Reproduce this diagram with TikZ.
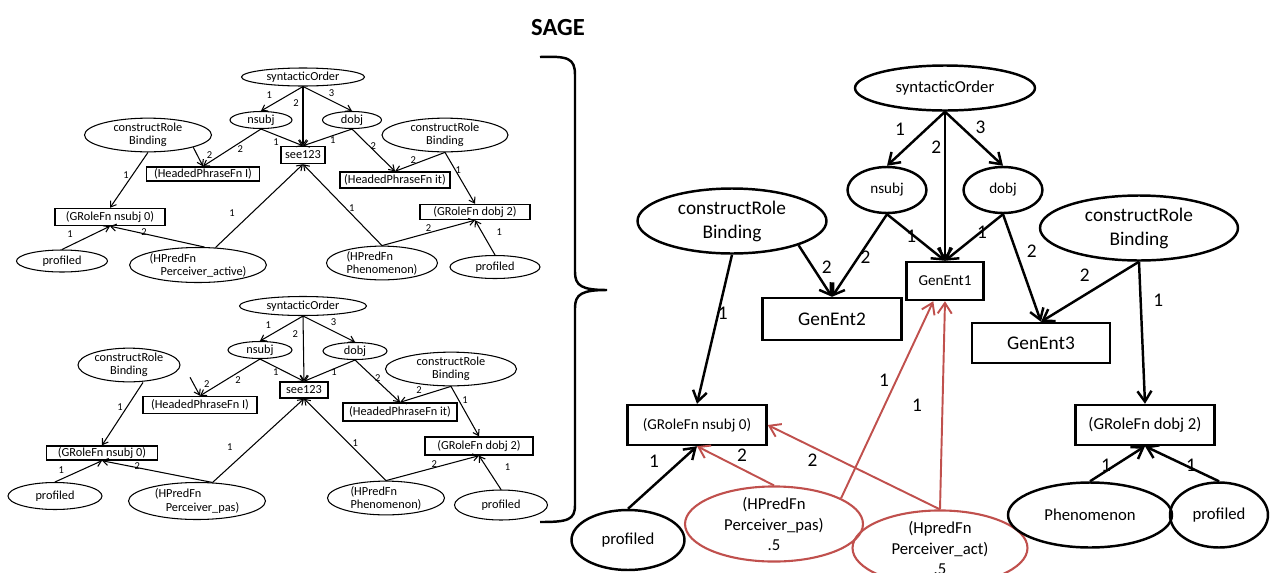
\documentclass[tikz,border=0pt]{standalone}
\usepackage{fontspec}
\setmainfont{Carlito}
\usetikzlibrary{shapes.geometric, arrows.meta}

\definecolor{accred}{HTML}{C0504D}
\newcommand{\fbig}{\fontsize{11}{13.6}\selectfont}
\newcommand{\fmid}{\fontsize{9.5}{11.6}\selectfont}
\newcommand{\fsml}{\fontsize{8.6}{10}\selectfont}
\newcommand{\ftiny}{\fontsize{7}{7.5}\selectfont}
\newcommand{\fmini}{\fontsize{6}{7}\selectfont}

\begin{document}
\begin{tikzpicture}[x=0.02cm, y=-0.02cm,
    bigell/.style={ellipse, draw=black, line width=1.4pt, inner sep=0pt, align=center, font=\fbig},
    bigbox/.style={rectangle, draw=black, line width=1.4pt, inner sep=0pt, font=\fbig},
    redell/.style={bigell, draw=accred, line width=1.2pt, font=\fmid},
    bigarr/.style={line width=1.4pt, -{Straight Barb[length=6pt, width=8pt]}},
    redarr/.style={line width=1.1pt, draw=accred, -{Straight Barb[length=6pt, width=8pt]}},
    biglbl/.style={font=\fbig, inner sep=0pt},
    sell/.style={ellipse, draw=black, line width=0.6pt, inner sep=0pt, align=center, font=\ftiny},
    sbox/.style={rectangle, draw=black, line width=0.8pt, inner sep=0pt, font=\ftiny},
    sarr/.style={line width=0.6pt, -{Straight Barb[length=3pt, width=4pt]}},
    slbl/.style={font=\fmini, inner sep=0pt}
]
\useasboundingbox (0,0) rectangle (1272,572);
\clip (0,0) rectangle (1272,572);

% title and brace
\node[font=\bfseries\fontsize{14}{16}\selectfont] (sage) at (558,28) {SAGE};
\draw[line width=1.4pt] (540,57) .. controls (568,56) and (575,58) .. (575,75) -- (575,272)
    .. controls (575,286) and (582,290) .. (607,290) .. controls (582,290) and (575,294) .. (575,308)
    -- (575,505) .. controls (575,520) and (568,522) .. (540,522);

% upper small graph (active)
\node[sell, minimum width=2.46cm, minimum height=0.36cm] (soA) at (303,77) {syntacticOrder};
\node[sell, minimum width=1.24cm, minimum height=0.34cm] (nsA) at (261,120) {nsubj};
\node[sell, minimum width=1.18cm, minimum height=0.34cm] (doA) at (352,120) {dobj};
\node[sbox, minimum width=0.88cm, minimum height=0.34cm] (seeA) at (303,155) {see123};
\node[sell, minimum width=2.54cm, minimum height=0.52cm] (crlA) at (148,135) {constructRole\\Binding};
\node[sbox, minimum width=2.26cm, minimum height=0.28cm] (hpiA) at (203,174) {(HeadedPhraseFn I)};
\node[sbox, minimum width=2.2cm, minimum height=0.34cm] (gnA) at (110,217) {(GRoleFn nsubj 0)};
\node[sell, minimum width=1.82cm, minimum height=0.44cm] (plA) at (62,261) {profiled};
\node[sell, align=left, minimum width=2.6cm, minimum height=0.7cm] (actA) at (198,265) {(HPredFn\\\hspace*{0.9em}Perceiver\_active)};
\node[sell, minimum width=2.52cm, minimum height=0.5cm] (crrA) at (445,135) {constructRole\\Binding};
\node[sbox, minimum width=2.2cm, minimum height=0.32cm] (hitA) at (395,180) {(HeadedPhraseFn it)};
\node[sbox, minimum width=2.2cm, minimum height=0.3cm] (gdA) at (475,212) {(GRoleFn dobj 2)};
\node[sell, align=left, minimum width=2.22cm, minimum height=0.62cm] (phA) at (382,263) {(HPredFn\\Phenomenon)};
\node[sell, minimum width=1.8cm, minimum height=0.46cm] (prA) at (495,267) {profiled};

\draw[sarr] (soA.south) -- node[slbl, pos=.34, xshift=-11pt] {1} (nsA.north);
\draw[sarr] (soA.south) -- node[slbl, pos=.275, xshift=-4pt] {2} (seeA.north);
\draw[sarr] (soA.south) -- node[slbl, pos=.26, xshift=9pt] {3} (doA.north);
\draw[sarr] (nsA.south) -- node[slbl, pos=.53, xshift=5.7pt] {2} (hpiA.north);
\draw[sarr] (nsA.south) -- node[slbl, pos=.36, yshift=-4pt] {1} (seeA.north);
\draw[sarr] (doA.south) -- node[slbl, pos=.39, yshift=-2.5pt] {1} (seeA.north);
\draw[sarr] (doA.south) -- node[slbl, pos=.4, xshift=2.3pt] {2} (hitA.north);
\draw[sarr] (crlA.south east) -- node[slbl, pos=.41, xshift=7pt] {2} (hpiA.north);
\draw[sarr] (crlA.south) -- node[slbl, pos=.41, xshift=-3.6pt] {1} (gnA.north);
\draw[sarr] (plA.north) -- node[slbl, pos=.3, xshift=-3.6pt, yshift=4.9pt] {1} (gnA.south);
\draw[sarr] (actA.70) -- node[slbl, pos=.64, yshift=1pt] {2} (gnA.south);
\draw[sarr] (actA.45) -- node[slbl, pos=.41, xshift=-11pt] {1} (seeA.south);
\draw[sarr] (phA.north) -- node[slbl, pos=.46, xshift=3.5pt] {1} (seeA.south);
\draw[sarr] (phA.north) -- node[slbl, pos=.5, yshift=3pt] {2} (gdA.south);
\draw[sarr] (prA.north) -- node[slbl, pos=.66, xshift=10pt] {1} (gdA.south);
\draw[sarr] (crrA.south) -- node[slbl, pos=.39, xshift=-7pt] {2} (hitA.north);
\draw[sarr] (crrA.south) -- node[slbl, pos=.34, xshift=1.7pt] {1} (gdA.north);

% lower small graph (passive)
\node[sell, minimum width=2.54cm, minimum height=0.38cm] (soB) at (303,306) {syntacticOrder};
\node[sell, minimum width=1.28cm, minimum height=0.34cm] (nsB) at (260,350) {nsubj};
\node[sell, minimum width=1.28cm, minimum height=0.34cm] (doB) at (355,351) {dobj};
\node[sbox, minimum width=0.96cm, minimum height=0.32cm] (seeB) at (304,390) {see123};
\node[sell, minimum width=2.04cm, minimum height=0.52cm] (crlB) at (129,365) {constructRole\\Binding};
\node[sbox, minimum width=2.28cm, minimum height=0.34cm] (hpiB) at (200,405) {(HeadedPhraseFn I)};
\node[sbox, minimum width=2.22cm, minimum height=0.28cm] (gnB) at (102,453) {(GRoleFn nsubj 0)};
\node[sell, minimum width=1.88cm, minimum height=0.54cm] (plB) at (55,496) {profiled};
\node[sell, align=left, minimum width=2.74cm, minimum height=0.74cm] (pasB) at (197,501) {(HPredFn\\\hspace*{0.9em}Perceiver\_pas)};
\node[sell, minimum width=2.62cm, minimum height=0.56cm] (crrB) at (451,369) {constructRole\\Binding};
\node[sbox, minimum width=2.28cm, minimum height=0.36cm] (hitB) at (400,412) {(HeadedPhraseFn it)};
\node[sbox, minimum width=2.16cm, minimum height=0.36cm] (gdB) at (479,446) {(GRoleFn dobj 2)};
\node[sell, align=left, minimum width=2.34cm, minimum height=0.6cm] (phB) at (386,498) {(HPredFn\\Phenomenon)};
\node[sell, minimum width=1.86cm, minimum height=0.6cm] (prB) at (501,505) {profiled};

\draw[sarr] (soB.south) -- node[slbl, pos=.36, xshift=-11pt] {1} (nsB.north);
\draw[sarr] (soB.south) -- node[slbl, pos=.275, xshift=-4.5pt] {2} (seeB.north);
\draw[sarr] (soB.south) -- node[slbl, pos=.25, xshift=10pt] {3} (doB.north);
\draw[sarr] (nsB.south) -- node[slbl, pos=.57, xshift=7pt] {2} (hpiB.north);
\draw[sarr] (nsB.south) -- node[slbl, pos=.36, yshift=-3pt] {1} (seeB.north);
\draw[sarr] (doB.south) -- node[slbl, pos=.41, yshift=-2pt] {1} (seeB.north);
\draw[sarr] (doB.south) -- node[slbl, pos=.43, xshift=2pt] {2} (hitB.north);
\draw[sarr] ([xshift=14pt]crlB.south east) -- node[slbl, pos=.35, xshift=7.5pt] {2} (hpiB.north);
\draw[sarr] ([xshift=8pt]crlB.south) -- node[slbl, pos=.4, xshift=-3.7pt] {1} (gnB.north);
\draw[sarr] (plB.north) -- node[slbl, pos=.2, xshift=-1.7pt, yshift=4.5pt] {1} (gnB.south);
\draw[sarr] (pasB.50) -- node[slbl, pos=.68, yshift=1pt] {2} (gnB.south);
\draw[sarr] (pasB.50) -- node[slbl, pos=.42, xshift=-12pt] {1} (seeB.south);
\draw[sarr] (phB.north) -- node[slbl, pos=.46, xshift=4pt] {1} (seeB.south);
\draw[sarr] (phB.north) -- node[slbl, pos=.52, yshift=2pt] {2} (gdB.south);
\draw[sarr] (prB.north) -- node[slbl, pos=.66, xshift=12pt] {1} (gdB.south);
\draw[sarr] (crrB.south) -- node[slbl, pos=.25, xshift=-11pt] {2} (hitB.north);
\draw[sarr] (crrB.south) -- node[slbl, pos=.28, xshift=3.5pt] {1} (gdB.north);

% SAGE graph
\node[bigell, font=\fmid, minimum width=3.6cm, minimum height=0.9cm] (so) at (945,88) {syntacticOrder};
\node[bigell, font=\fsml, minimum width=1.58cm, minimum height=0.92cm] (ns) at (887,190) {nsubj};
\node[bigell, font=\fsml, minimum width=1.58cm, minimum height=0.92cm] (dob) at (1003,190) {dobj};
\node[bigbox, font=\fsml, minimum width=1.54cm, minimum height=0.76cm] (ge1) at (945,281) {GenEnt1};
\node[bigell, minimum width=3.78cm, minimum height=1.3cm] (crbL) at (732,221) {constructRole\\Binding};
\node[bigbox, minimum width=2.78cm, minimum height=0.84cm] (ge2) at (832,319) {GenEnt2};
\node[bigell, minimum width=3.96cm, minimum height=1.3cm] (crbR) at (1139,228) {constructRole\\Binding};
\node[bigbox, minimum width=2.76cm, minimum height=0.8cm] (ge3) at (1041,343) {GenEnt3};
\node[bigbox, font=\fsml, minimum width=2.78cm, minimum height=0.8cm] (grn) at (697,425) {(GRoleFn nsubj 0)};
\node[bigbox, font=\fmid, minimum width=2.78cm, minimum height=0.8cm] (grd) at (1145,425) {(GRoleFn dobj 2)};
\node[bigell, font=\fmid, minimum width=2.26cm, minimum height=1.2cm] (profL) at (628,540) {profiled};
\node[redell, minimum width=3.56cm, minimum height=1.34cm] (pas) at (774,524) {(HPredFn\\Perceiver\_pas)\\.5};
\node[redell, minimum width=3.5cm, minimum height=1.4cm] (act) at (940,548) {(HpredFn\\Perceiver\_act)\\.5};
\node[bigell, font=\fmid, minimum width=3.28cm, minimum height=1.3cm] (phen) at (1090,515) {Phenomenon};
\node[bigell, font=\fmid, minimum width=1.96cm, minimum height=1.3cm] (profR) at (1219,515) {profiled};

\draw[bigarr] (so.south) -- node[biglbl, pos=.32, xshift=-15pt] {1} (ns.north);
\draw[bigarr] (so.south) -- node[biglbl, pos=.24, xshift=-5pt] {2} (ge1.north);
\draw[bigarr] (so.south) -- node[biglbl, pos=.28, xshift=11pt] {3} (dob.north);
\draw[bigarr] (ns.south) -- node[biglbl, pos=.52, xshift=4pt] {2} (ge2.north);
\draw[bigarr] (ns.south) -- node[biglbl, pos=.47, xshift=-1.7pt] {1} (ge1.north);
\draw[bigarr] (dob.south) -- node[biglbl, pos=.39, xshift=1pt] {1} (ge1.north);
\draw[bigarr] (dob.south) -- node[biglbl, pos=.34, xshift=9pt] {2} (ge3.north);
\draw[bigarr] (crbL.-20) -- node[biglbl, pos=.42, xshift=8pt] {2} (ge2.north);
\draw[bigarr] (crbL.south) -- node[biglbl, pos=.39, xshift=2.5pt] {1} (grn.north);
\draw[bigarr] (crbR.south) -- node[biglbl, pos=.23, xshift=-18pt] {2} (ge3.north);
\draw[bigarr] (crbR.south) -- node[biglbl, pos=.27, xshift=10pt] {1} (grd.north);
\draw[bigarr] (profL.north) -- node[biglbl, pos=.76, xshift=-15pt] {1} (grn.south);
\draw[bigarr] (phen.north) -- node[biglbl, pos=.45, xshift=-5pt] {1} (grd.south);
\draw[bigarr] (profR.north) -- node[biglbl, pos=.45, xshift=3pt] {1} (grd.south);
\draw[redarr] (pas.north) -- node[biglbl, pos=.78, xshift=16pt] {2} (grn.south);
\draw[redarr] (pas.21) -- node[biglbl, pos=.6, xshift=-7pt] {1} (ge1.-120);
\draw[redarr] (act.north) -- node[biglbl, pos=.74, yshift=-7.5pt] {2} (grn.east);
\draw[redarr] (act.north) -- node[biglbl, pos=.5, xshift=-14.5pt] {1} (ge1.south);

\end{tikzpicture}
\end{document}
